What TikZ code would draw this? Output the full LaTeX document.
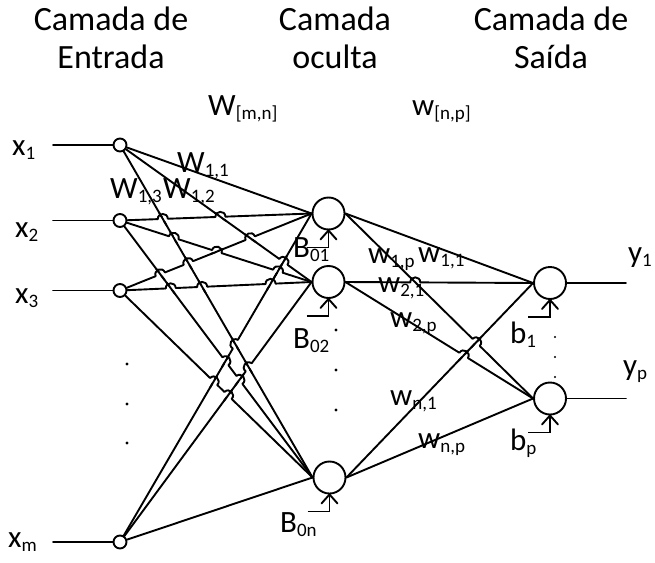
\documentclass[tikz,border=0pt]{standalone}
\usepackage{fontspec}
\setmainfont{Carlito}
\usetikzlibrary{calc}
\newcommand{\lsub}[1]{\raisebox{-4pt}{\fontsize{19}{19}\selectfont #1}}
\newcommand{\linehop}[4]{%
  \coordinate (X) at (intersection of #1--#2 and #3--#4);
  \draw[white, line width=3.8pt] ($(X)!5pt!(#1)$) -- ($(X)!5pt!(#2)$);
  \draw[wire] ($(X)!7pt!(#3)$) -- ($(X)!7pt!(#4)$);
  \draw[wire] ($(X)!5pt!(#1)$) to[bend left=90, looseness=1.7] ($(X)!5pt!(#2)$);
}
\newcommand{\biasarrow}[1]{%
  \draw[wire, line cap=butt] ($(#1.south)+(-22,17)$) -| (#1.south);
  \draw[wire, line join=miter] ($(#1.south)+(-8,9)$) -- (#1.south) -- ($(#1.south)+(8,9)$);
}
\begin{document}
\begin{tikzpicture}[x=1pt, y=-1pt,
  wire/.style={line width=1.9pt, line cap=round},
  innode/.style={circle, draw, line width=1.9pt, minimum size=13pt, inner sep=0pt, fill=white},
  neuron/.style={circle, draw, line width=1.9pt, minimum size=32pt, inner sep=0pt, fill=white},
  dotnode/.style={circle, fill, minimum size=3.4pt, inner sep=0pt},
  smalldot/.style={circle, fill, minimum size=2.2pt, inner sep=0pt},
  ttl/.style={anchor=base, inner sep=0pt, font=\fontsize{34}{40}\selectfont},
  lbl/.style={anchor=base west, inner sep=0pt, font=\fontsize{31}{36}\selectfont}]
\useasboundingbox[fill=white] (0,0) rectangle (655,562);

% titles
\node[ttl] (t1a) at (111,30) {Camada de};
\node[ttl] (t1b) at (111,68) {Entrada};
\node[ttl] (t2a) at (335,30) {Camada};
\node[ttl] (t2b) at (335,68) {oculta};
\node[ttl] (t3a) at (551,30) {Camada de};
\node[ttl] (t3b) at (551,68) {Saída};

% nodes
\node[innode] (i1) at (120,145) {};
\node[innode] (i2) at (120,220.5) {};
\node[innode] (i3) at (120,290.5) {};
\node[innode] (im) at (120,542) {};
\node[neuron] (h1) at (328.5,213.5) {};
\node[neuron] (h2) at (328.5,282) {};
\node[neuron] (hn) at (329.5,477.5) {};
\node[neuron] (o1) at (550,283) {};
\node[neuron] (op) at (550,398.5) {};

% input / output stubs
\coordinate (s1) at (53,145);
\coordinate (s2) at (53,220.5);
\coordinate (s3) at (53,290.5);
\coordinate (sm) at (53,542);
\coordinate (e1) at (626,283);
\coordinate (ep) at (626,398.5);
\draw[wire] (s1) -- (i1);
\draw[wire] (s2) -- (i2);
\draw[wire] (s3) -- (i3);
\draw[wire] (sm) -- (im);
\draw[wire] (o1) -- (e1);
\draw[wire] (op) -- (ep);

% input -> hidden
\foreach \i in {i1,i2,i3,im}{
  \foreach \h in {h1,h2,hn}{
    \draw[wire] (\i) -- (\h.west);
  }
}
% hidden -> output
\foreach \h in {h1,h2,hn}{
  \foreach \o in {o1,op}{
    \draw[wire] (\h.east) -- (\o.west);
  }
}

% line hops
\linehop{i2}{h1.west}{i1}{h2.west}
\linehop{i2}{h1.west}{i1}{hn.west}
\linehop{i2}{h2.west}{i1}{hn.west}
\linehop{i3}{h1.west}{i1}{h2.west}
\linehop{i3}{h1.west}{i1}{hn.west}
\linehop{i3}{h2.west}{i1}{hn.west}
\linehop{i1}{h2.west}{im}{h1.west}
\linehop{im}{h1.west}{i1}{hn.west}
\linehop{im}{h2.west}{i1}{hn.west}
\linehop{i2}{h2.west}{i3}{h1.west}
\linehop{i3}{h1.west}{i2}{hn.west}
\linehop{i3}{h2.west}{i2}{hn.west}
\linehop{i2}{h2.west}{im}{h1.west}
\linehop{i2}{hn.west}{im}{h1.west}
\linehop{i2}{hn.west}{im}{h2.west}
\linehop{i3}{h2.west}{im}{h1.west}
\linehop{i3}{hn.west}{im}{h1.west}
\linehop{i3}{hn.west}{im}{h2.west}
\linehop{h2.east}{o1.west}{h1.east}{op.west}
\linehop{h1.east}{op.west}{hn.east}{o1.west}
\linehop{h2.east}{op.west}{hn.east}{o1.west}

% biases
\biasarrow{h1}
\biasarrow{h2}
\biasarrow{hn}
\biasarrow{o1}
\biasarrow{op}

% dots
\node[dotnode] (di1) at (127,364) {};
\node[dotnode] (di2) at (127,404) {};
\node[dotnode] (di3) at (127,443) {};
\node[dotnode] (dh1) at (336,330) {};
\node[dotnode] (dh2) at (336,370) {};
\node[dotnode] (dh3) at (336,410) {};
\node[smalldot] (do1) at (555,337) {};
\node[smalldot] (do2) at (555,357) {};
\node[smalldot] (do3) at (555,377) {};

% labels
\node[lbl] (lx1) at (12,155) {x\lsub{1}};
\node[lbl] (lx2) at (15,237) {x\lsub{2}};
\node[lbl] (lx3) at (15,303) {x\lsub{3}};
\node[lbl] (lxm) at (8,547) {x\lsub{m}};
\node[lbl] (lWmn) at (208,115) {W\lsub{[m,n]}};
\node[lbl] (lwnp) at (412,115) {w\lsub{[n,p]}};
\node[lbl] (lW11) at (177,172) {W\lsub{1,1}};
\node[lbl] (lW13) at (110,198) {W\lsub{1,3}};
\node[lbl] (lW12) at (163,198) {W\lsub{1,2}};
\node[lbl] (lB01) at (293,257) {B\lsub{01}};
\node[lbl] (lB02) at (293,348) {B\lsub{02}};
\node[lbl] (lB0n) at (280,532) {B\lsub{0n}};
\node[lbl] (lb1) at (510,343) {b\lsub{1}};
\node[lbl] (lbp) at (510,450) {b\lsub{p}};
\node[lbl] (ly1) at (628,262) {y\lsub{1}};
\node[lbl] (lyp) at (623,375) {y\lsub{p}};
\node[lbl] (lw1p) at (368,263) {w\lsub{1,p}};
\node[lbl] (lw11) at (418,262) {w\lsub{1,1}};
\node[lbl] (lw21) at (378,292) {w\lsub{2,1}};
\node[lbl] (lw2p) at (390,327) {w\lsub{2,p}};
\node[lbl] (lwn1) at (390,405) {w\lsub{n,1}};
\node[lbl] (lwnp2) at (418,448) {w\lsub{n,p}};
\end{tikzpicture}
\end{document}
